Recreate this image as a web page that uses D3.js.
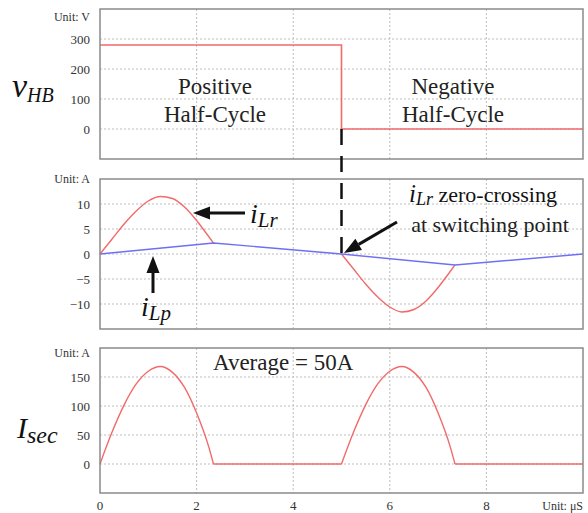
<!DOCTYPE html>
<html>
<head>
<meta charset="utf-8">
<script src="https://cdn.jsdelivr.net/npm/d3@7"></script>
<style>
  body { margin: 0; background: #fff; }
  svg, svg text { font-family: "Liberation Serif", "DejaVu Serif", serif !important; }
</style>
</head>
<body>
<div class="chart"></div>
<script>
// ---- data ----
var timeTicks = [0, 2, 4, 6, 8];
var vhbTicks = [0, 100, 200, 300];
var ilTicks = [-10, -5, 0, 5, 10];
var isecTicks = [0, 50, 100, 150];

// half-bridge voltage (V)
var vhbT = [0, 5, 5, 10];
var vhbV = [280, 280, 0, 0];

// resonant current humps (A)
var ilrPosT = [0, 0.25, 0.5, 0.75, 1.0, 1.25, 1.5, 1.75, 2.0, 2.25, 2.35];
var ilrPosV = [0, 3.0, 6.0, 8.6, 10.6, 11.5, 11.1, 9.4, 6.7, 3.5, 2.2];
var ilrNegT = [5, 5.25, 5.5, 5.75, 6.0, 6.25, 6.5, 6.75, 7.0, 7.25, 7.35];
var ilrNegV = [0, -3.0, -6.0, -8.6, -10.6, -11.6, -11.1, -9.4, -6.7, -3.5, -2.2];

// magnetizing current (A)
var ilpT = [0, 2.35, 5, 7.35, 10];
var ilpV = [0, 2.2, 0, -2.2, 0];

// secondary current (A)
var isecT = [0, 0.25, 0.5, 0.75, 1.0, 1.25, 1.5, 1.75, 2.0, 2.25, 2.35,
             5, 5.25, 5.5, 5.75, 6.0, 6.25, 6.5, 6.75, 7.0, 7.25, 7.35, 10];
var isecV = [0, 55, 102, 138, 160, 168, 158, 132, 88, 30, 0,
             0, 55, 102, 138, 160, 168, 158, 132, 88, 30, 0, 0];

// ---- layout ----
var svgWidth = 588;
var svgHeight = 513;
var left = 100, right = 583;
var red = "#f26a6a";
var blue = "#6f6ff2";
var serif = "Liberation Serif";

var svg = d3.select(".chart")
  .append("svg")
  .attr("width", svgWidth)
  .attr("height", svgHeight)
  .attr("font-family", serif);

var x = d3.scaleLinear().domain([0, 10]).range([left, right]);

var panels = [
  { top: 9, bottom: 159, domain: [-100, 400], ticks: vhbTicks, unit: "Unit: V", unitY: 21 },
  { top: 179, bottom: 329, domain: [-15, 15], ticks: ilTicks, unit: "Unit: A", unitY: 183 },
  { top: 348, bottom: 493, domain: [-50, 200], ticks: isecTicks, unit: "Unit: A", unitY: 357 }
];

panels.forEach(function(p) {
  p.y = d3.scaleLinear().domain(p.domain).range([p.bottom, p.top]);
  var g = svg.append("g");

  // grid
  g.selectAll("line.vg")
    .data(timeTicks.slice(1))
    .enter().append("line")
    .attr("x1", d => x(d)).attr("x2", d => x(d))
    .attr("y1", p.top).attr("y2", p.bottom)
    .attr("stroke", "#bdbdbd").attr("stroke-dasharray", "2,2");
  g.selectAll("line.hg")
    .data(p.ticks)
    .enter().append("line")
    .attr("x1", left).attr("x2", right)
    .attr("y1", d => p.y(d)).attr("y2", d => p.y(d))
    .attr("stroke", "#bdbdbd").attr("stroke-dasharray", "2,2");

  // y tick labels
  var axis = d3.axisLeft(p.y).tickValues(p.ticks).tickSize(0).tickPadding(10);
  var ax = g.append("g").attr("transform", `translate(${left},0)`).call(axis);
  ax.attr("font-family", serif).attr("font-size", 13);
  ax.select(".domain").remove();
  ax.selectAll("text").attr("fill", "#333");

  g.append("text")
    .attr("x", 90).attr("y", p.unitY)
    .attr("text-anchor", "end")
    .attr("font-size", 12).attr("fill", "#333")
    .text(p.unit);

  p.g = g;
});

function pts(t, v) { return t.map((d, i) => [d, v[i]]); }

// panel 1: vHB
var p1 = panels[0];
p1.g.append("path")
  .datum(pts(vhbT, vhbV))
  .attr("d", d3.line().x(d => x(d[0])).y(d => p1.y(d[1])))
  .attr("fill", "none").attr("stroke", red).attr("stroke-width", 1.6);

// panel 2: iLr and iLp
var p2 = panels[1];
var line2 = d3.line().x(d => x(d[0])).y(d => p2.y(d[1])).curve(d3.curveMonotoneX);
[pts(ilrPosT, ilrPosV), pts(ilrNegT, ilrNegV)].forEach(function(s) {
  p2.g.append("path").datum(s).attr("d", line2)
    .attr("fill", "none").attr("stroke", red).attr("stroke-width", 1.4);
});
p2.g.append("path")
  .datum(pts(ilpT, ilpV))
  .attr("d", d3.line().x(d => x(d[0])).y(d => p2.y(d[1])))
  .attr("fill", "none").attr("stroke", blue).attr("stroke-width", 1.4);

// panel 3: Isec, split at zero points so the hump corners stay sharp
var p3 = panels[2];
var line3 = d3.line().x(d => x(d[0])).y(d => p3.y(d[1])).curve(d3.curveMonotoneX);
var isec = pts(isecT, isecV);
var run = [isec[0]];
for (var i = 1; i < isec.length; i++) {
  run.push(isec[i]);
  if (isec[i][1] === 0) {
    p3.g.append("path").datum(run).attr("d", line3)
      .attr("fill", "none").attr("stroke", red).attr("stroke-width", 1.4);
    run = [isec[i]];
  }
}

// frames
panels.forEach(function(p) {
  svg.append("rect")
    .attr("x", left).attr("y", p.top)
    .attr("width", right - left).attr("height", p.bottom - p.top)
    .attr("fill", "none").attr("stroke", "#8a8a8a").attr("stroke-width", 1.5);
});

// x tick labels
svg.selectAll("text.xt")
  .data(timeTicks)
  .enter().append("text")
  .attr("x", d => x(d)).attr("y", 510)
  .attr("text-anchor", "middle")
  .attr("font-size", 13).attr("fill", "#333")
  .text(d => d);
svg.append("text")
  .attr("x", right).attr("y", 510)
  .attr("text-anchor", "end")
  .attr("font-size", 12).attr("fill", "#333")
  .text("Unit: μS");

// switching instant, dashed
svg.append("line")
  .attr("x1", x(5)).attr("x2", x(5))
  .attr("y1", p1.y(0)).attr("y2", p2.y(0))
  .attr("stroke", "#111").attr("stroke-width", 2.5)
  .attr("stroke-dasharray", "16,11");

// half-cycle labels
function twoLines(cx, l1, l2) {
  var t = svg.append("text").attr("text-anchor", "middle").attr("font-size", 23).attr("fill", "#222");
  t.append("tspan").attr("x", cx).attr("y", 94).text(l1);
  t.append("tspan").attr("x", cx).attr("y", 122).text(l2);
}
twoLines(215, "Positive", "Half-Cycle");
twoLines(453, "Negative", "Half-Cycle");

// variable names with subscripts
function sym(xp, yp, main, sub, mainSize, subSize, shift) {
  var t = svg.append("text").attr("x", xp).attr("y", yp)
    .attr("font-style", "italic").attr("fill", "#111");
  t.append("tspan").attr("font-size", mainSize).text(main);
  t.append("tspan").attr("font-size", subSize).attr("dy", shift).text(sub);
  return t;
}
sym(12, 97, "v", "HB", 34, 20, 5);
sym(17, 438, "I", "sec", 30, 24, 5);
sym(250, 223, "i", "Lr", 28, 21, 4);
sym(141, 316, "i", "Lp", 28, 21, 4);

// zero-crossing note
var zc = sym(409, 202, "i", "Lr", 25, 18, 3);
zc.append("tspan").attr("dy", -3).attr("font-style", "normal").attr("font-size", 22).text(" zero-crossing");
svg.append("text")
  .attr("x", 490).attr("y", 232)
  .attr("text-anchor", "middle")
  .attr("font-size", 22).attr("fill", "#222")
  .text("at switching point");

svg.append("text")
  .attr("x", 213).attr("y", 370)
  .attr("font-size", 23).attr("fill", "#222")
  .text("Average = 50A");

// arrows
function arrow(x1, y1, x2, y2) {
  var a = Math.atan2(y2 - y1, x2 - x1);
  var len = 17, hw = 6.5;
  var bx = x2 - len * Math.cos(a), by = y2 - len * Math.sin(a);
  svg.append("line")
    .attr("x1", x1).attr("y1", y1).attr("x2", bx).attr("y2", by)
    .attr("stroke", "#111").attr("stroke-width", 3);
  svg.append("path")
    .attr("d", d3.line()([
      [x2, y2],
      [bx + hw * Math.sin(a), by - hw * Math.cos(a)],
      [bx - hw * Math.sin(a), by + hw * Math.cos(a)]
    ]) + "Z")
    .attr("fill", "#111");
}
arrow(245, 213, 193, 213);
arrow(153, 293, 153, 256);
arrow(397, 222, 344, 253);
</script>
</body>
</html>
